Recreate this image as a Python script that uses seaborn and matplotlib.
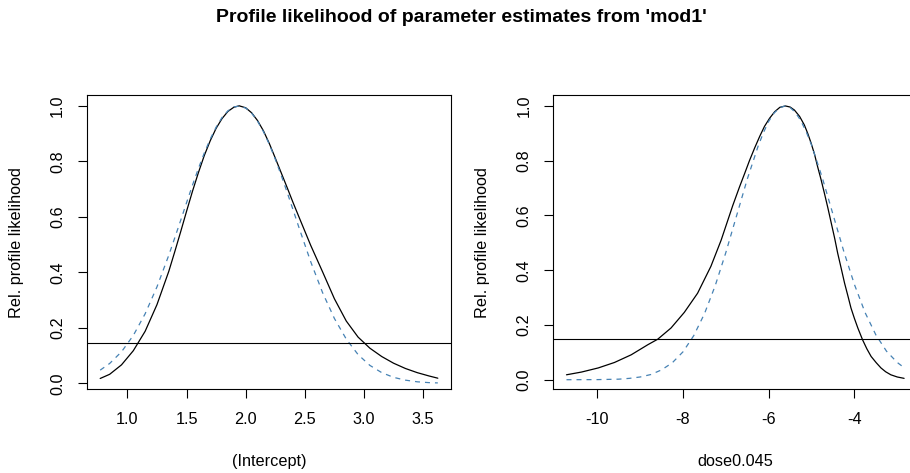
import matplotlib
matplotlib.use("Agg")
import matplotlib.pyplot as plt
import seaborn as sns
import pandas as pd

# --- data ---
int_x = [0.77, 0.85, 0.95, 1.05, 1.15, 1.25, 1.35, 1.40, 1.45, 1.50, 1.55, 1.60, 1.65,
         1.70, 1.75, 1.80, 1.85, 1.90, 1.945, 2.00, 2.05, 2.10, 2.15, 2.20, 2.25, 2.30,
         2.35, 2.40, 2.45, 2.55, 2.65, 2.75, 2.85, 2.95, 3.05, 3.15, 3.25, 3.35, 3.45,
         3.55, 3.624]
int_profile = [0.018, 0.033, 0.067, 0.118, 0.188, 0.284, 0.404, 0.474, 0.546, 0.620,
               0.692, 0.759, 0.821, 0.874, 0.919, 0.954, 0.980, 0.995, 1.0, 0.993, 0.975,
               0.947, 0.910, 0.864, 0.812, 0.759, 0.706, 0.652, 0.600, 0.497, 0.402,
               0.305, 0.225, 0.167, 0.127, 0.097, 0.073, 0.054, 0.039, 0.027, 0.019]
int_normal = [0.048, 0.072, 0.114, 0.173, 0.251, 0.348, 0.462, 0.524, 0.587, 0.651,
              0.714, 0.774, 0.830, 0.880, 0.923, 0.958, 0.982, 0.996, 0.999, 0.992, 0.974,
              0.945, 0.907, 0.861, 0.808, 0.750, 0.689, 0.626, 0.562, 0.438, 0.327,
              0.234, 0.160, 0.104, 0.065, 0.039, 0.022, 0.012, 0.006, 0.003, 0.002]

dose_x = [-10.72, -10.37, -9.98, -9.60, -9.21, -8.82, -8.59, -8.28, -7.97, -7.66, -7.35,
          -7.11, -6.84, -6.68, -6.56, -6.45, -6.33, -6.21, -6.10, -5.98, -5.86, -5.74,
          -5.61, -5.50, -5.40, -5.28, -5.17, -5.09, -5.01, -4.93, -4.86, -4.78, -4.70,
          -4.62, -4.54, -4.46, -4.39, -4.31, -4.23, -4.15, -4.08, -4.00, -3.92, -3.81,
          -3.71, -3.61, -3.49, -3.38, -3.27, -3.15, -3.00, -2.84]
dose_profile = [0.018, 0.028, 0.043, 0.063, 0.091, 0.128, 0.148, 0.189, 0.246, 0.316,
                0.414, 0.510, 0.636, 0.705, 0.754, 0.800, 0.846, 0.889, 0.925, 0.955,
                0.979, 0.995, 1.0, 0.996, 0.985, 0.962, 0.931, 0.900, 0.864, 0.823,
                0.779, 0.732, 0.681, 0.628, 0.572, 0.516, 0.462, 0.408, 0.353, 0.305,
                0.262, 0.224, 0.189, 0.146, 0.113, 0.085, 0.062, 0.043, 0.029, 0.018,
                0.010, 0.005]
dose_x_norm = [-10.72, -10.0, -9.5, -9.25, -9.0, -8.75, -8.5, -8.25, -8.0, -7.75, -7.5,
               -7.25, -7.0, -6.75, -6.5, -6.25, -6.125, -6.0, -5.875, -5.75, -5.62, -5.5,
               -5.375, -5.25, -5.125, -5.0, -4.75, -4.5, -4.25, -4.0, -3.75, -3.5, -3.25,
               -3.0, -2.84]
dose_normal = [0.000, 0.0004, 0.002, 0.005, 0.010, 0.019, 0.036, 0.062, 0.102, 0.161,
               0.241, 0.343, 0.465, 0.599, 0.733, 0.852, 0.902, 0.944, 0.974, 0.993, 1.0,
               0.994, 0.976, 0.946, 0.906, 0.857, 0.738, 0.604, 0.470, 0.348, 0.245,
               0.164, 0.104, 0.063, 0.044]

cutoff = 0.147
int_xticks = [1.0, 1.5, 2.0, 2.5, 3.0, 3.5]
dose_xticks = [-10, -8, -6, -4]
yticks = [0.0, 0.2, 0.4, 0.6, 0.8, 1.0]

sns.set_theme(style="white")
plt.rcParams['font.family'] = ['Liberation Sans', 'DejaVu Sans']

W, H = 910, 473
fig = plt.figure(figsize=(W / 100, H / 100), dpi=100)


def px_axes(x0, y0, x1, y1):
    # axes from pixel box (top-left origin)
    return fig.add_axes([x0 / W, 1 - y1 / H, (x1 - x0) / W, (y1 - y0) / H])


ax1 = px_axes(86.7, 95, 451.3, 389.3)
ax2 = px_axes(553, 95, 917.6, 389.3)

panels = [
    (ax1, int_x, int_profile, int_x, int_normal, "(Intercept)", int_xticks,
     (0.656, 3.738), (-0.021, 1.039), "{:.1f}"),
    (ax2, dose_x, dose_profile, dose_x_norm, dose_normal, "dose0.045", dose_xticks,
     (-11.035, -2.525), (-0.035, 1.040), "{:d}"),
]

for ax, xp, yp, xn, yn, xlab, xt, xl, yl, fmt in panels:
    d1 = pd.DataFrame({'x': xp, 'y': yp})
    d2 = pd.DataFrame({'x': xn, 'y': yn})
    sns.lineplot(data=d1, x='x', y='y', ax=ax, color='black', lw=0.9)
    sns.lineplot(data=d2, x='x', y='y', ax=ax, color='#4682B4', lw=0.9,
                 linestyle=(0, (4, 4)))
    ax.axhline(cutoff, color='black', lw=0.8)
    ax.set_xlim(*xl)
    ax.set_ylim(*yl)
    ax.set_xticks(xt)
    ax.set_xticklabels([fmt.format(v) for v in xt])
    ax.set_yticks(yticks)
    ax.set_yticklabels([f"{v:.1f}" for v in yticks], rotation=90, va='center')
    for s in ax.spines.values():
        s.set_color('black')
        s.set_linewidth(0.8)
    ax.tick_params(axis='both', direction='out', length=6.5, width=0.8, color='black',
                   labelsize=11.7, labelcolor='black', bottom=True, left=True)
    ax.tick_params(axis='x', pad=10)
    ax.tick_params(axis='y', pad=9)
    ax.set_xlabel(xlab, fontsize=11.7, color='black')
    ax.set_ylabel("Rel. profile likelihood", fontsize=11.7, color='black')
    ax.xaxis.set_label_coords(0.5, -0.246)
    ax.xaxis.label.set_va('center')
    ax.yaxis.set_label_coords(-0.192, 0.5)
    ax.yaxis.label.set_va('center')
    ax.grid(False)

fig.text(461.5 / W, 1 - 17 / H, "Profile likelihood of parameter estimates from 'mod1'",
         ha='center', va='center', fontsize=14, fontweight='bold', color='black')

fig.savefig("out.png", dpi=100, facecolor='white')
